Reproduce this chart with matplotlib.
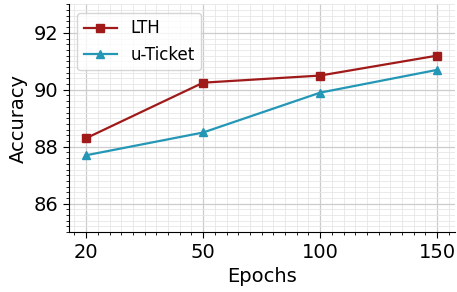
import matplotlib
matplotlib.use("Agg")
import matplotlib.pyplot as plt
from matplotlib.ticker import MultipleLocator

epochs = ["20", "50", "100", "150"]
lth = [88.3, 90.25, 90.5, 91.2]
uticket = [87.7, 88.5, 89.9, 90.7]

fig, ax = plt.subplots(figsize=(4.57, 2.92), dpi=100)
x = list(range(len(epochs)))
ax.plot(x, lth, color="#a01a1a", marker="s", markersize=6, linewidth=1.6, label="LTH")
ax.plot(x, uticket, color="#2397b5", marker="^", markersize=6, linewidth=1.6, label="u-Ticket")

ax.set_xticks(x)
ax.set_xticklabels(epochs)
ax.set_xlim(-0.15, 3.15)
ax.set_ylim(85, 93)
ax.yaxis.set_major_locator(MultipleLocator(2))
ax.yaxis.set_minor_locator(MultipleLocator(0.2))
ax.xaxis.set_minor_locator(MultipleLocator(0.1))
ax.grid(which="major", color="#cccccc", linewidth=0.9)
ax.grid(which="minor", color="#e6e6e6", linewidth=0.6)
ax.set_axisbelow(True)
for s in ["top", "right"]:
    ax.spines[s].set_visible(False)
ax.tick_params(axis="both", which="major", labelsize=14, length=4)
ax.tick_params(axis="both", which="minor", length=2)
ax.set_xlabel("Epochs", fontsize=14)
ax.set_ylabel("Accuracy", fontsize=14)
ax.legend(loc="upper left", fontsize=12)
fig.subplots_adjust(left=0.15, right=0.995, top=0.985, bottom=0.205)
fig.savefig("out.png", dpi=100)
